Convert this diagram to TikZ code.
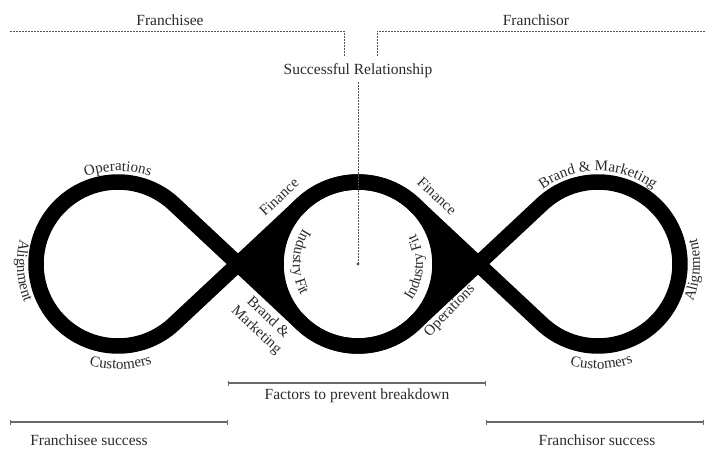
\documentclass[tikz,border=0pt]{standalone}
\usepackage{fontspec}
\setmainfont{Liberation Serif}
\usetikzlibrary{decorations.text,arrows.meta}
\definecolor{txt}{HTML}{2A2A2A}
\definecolor{dline}{HTML}{555555}
\definecolor{sline}{HTML}{6A6A6A}
\newcommand\curvefont{\fontsize{15}{18}\selectfont\color{txt}}
\tikzset{
  lbl/.style={font=\fontsize{15.5}{18}\selectfont, text=txt, inner sep=0pt},
  dlbl/.style={font=\fontsize{15}{17}\selectfont, text=txt, inner sep=0pt, align=center},
  loopline/.style={line width=15.5pt, line join=round, draw=black},
  dashline/.style={draw=dline, line width=0.8pt, dash pattern=on 2pt off 1pt},
  spanline/.style={draw=sline, line width=1.1pt, {Bar[width=5pt,line width=1pt]}-{Bar[width=5pt,line width=1pt]}},
  curvelbl/.style={decorate, decoration={text along path, text align=center, text={|\curvefont|#1}}}
}
\begin{document}
\begin{tikzpicture}[x=1pt,y=1pt]
\useasboundingbox (0,0) rectangle (705,448);
\coordinate (L) at (118,184);
\coordinate (M) at (358,184);
\coordinate (R) at (598,184);
\coordinate (X1) at (238,184);
\coordinate (X2) at (478,184);

% filled junction regions
\fill[black] (X1) -- ([shift={(M)}]133.1:82pt) arc[start angle=133.1, end angle=226.9, radius=82pt] -- cycle;
\fill[black] (X2) -- ([shift={(M)}]46.9:82pt) arc[start angle=46.9, end angle=-46.9, radius=82pt] -- cycle;

% the loops
\draw[loopline] ([shift={(L)}]46.9:82pt) -- ([shift={(M)}]226.9:82pt)
  arc[start angle=226.9, end angle=313.1, radius=82pt]
  -- ([shift={(R)}]133.1:82pt)
  arc[start angle=133.1, end angle=-133.1, radius=82pt]
  -- ([shift={(M)}]46.9:82pt)
  arc[start angle=46.9, end angle=133.1, radius=82pt]
  -- ([shift={(L)}]-46.9:82pt)
  arc[start angle=-46.9, end angle=-313.1, radius=82pt] -- cycle;
\draw[loopline] (M) circle[radius=82pt];

% top labels and dashed connectors
\node[lbl] (fe) at (170,428) {Franchisee};
\node[lbl] (fo) at (536,428) {Franchisor};
\node[lbl] (sr) at (358,377) {Successful Relationship};
\coordinate (feL) at (10,417);
\coordinate (feR) at (344,417);
\coordinate (foL) at (377,417);
\coordinate (foR) at (705,417);
\draw[dashline] (feL) -- (feR) -- (344,392);
\draw[dashline] (377,392) -- (foL) -- (foR);
\draw[dashline] (358,366) -- (M);
\fill[dline] (M) circle[radius=1.6pt];

% curved labels
\path[curvelbl=Operations] ([shift={(L)}]140:93pt) arc[start angle=140, end angle=40, radius=93pt];
\path[curvelbl=Customers] ([shift={(L)}]230:105pt) arc[start angle=230, end angle=313, radius=105pt];
\path[curvelbl=Alignment] ([shift={(L)}]144:101pt) arc[start angle=144, end angle=224, radius=101pt];
\path[curvelbl={Brand {\&} Marketing}] ([shift={(R)}]150:93pt) arc[start angle=150, end angle=30, radius=93pt];
\path[curvelbl=Customers] ([shift={(R)}]230:105pt) arc[start angle=230, end angle=314, radius=105pt];
\path[curvelbl=Alignment] ([shift={(R)}]-43.5:102pt) arc[start angle=-43.5, end angle=36.5, radius=102pt];
\path[curvelbl={Industry Fit}] ([shift={(M)}]118:65pt) arc[start angle=118, end angle=238, radius=65pt];
\path[curvelbl={Industry Fit}] ([shift={(M)}]-63.5:65pt) arc[start angle=-63.5, end angle=56.5, radius=65pt];

% diagonal labels
\node[dlbl, rotate=43] (fin1) at (279,251) {Finance};
\node[dlbl, rotate=-43] (fin2) at (437,252) {Finance};
\node[dlbl, rotate=-43] (bm) at (262,124) {Brand \&\\Marketing};
\node[dlbl, rotate=46] (ops) at (450,137) {Operations};

% bottom spans
\coordinate (fa) at (228,65);
\coordinate (fb) at (486,65);
\draw[spanline] (fa) -- (fb);
\node[lbl] (fac) at (357,52) {Factors to prevent breakdown};
\coordinate (sa) at (10,26);
\coordinate (sb) at (228,26);
\draw[spanline] (sa) -- (sb);
\node[lbl] (fes) at (89,8) {Franchisee success};
\coordinate (oa) at (486,26);
\coordinate (ob) at (704,26);
\draw[spanline] (oa) -- (ob);
\node[lbl] (fos) at (597,8) {Franchisor success};
\end{tikzpicture}
\end{document}
